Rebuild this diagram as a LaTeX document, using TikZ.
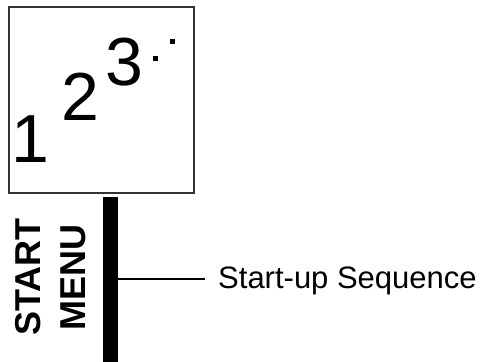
\documentclass[tikz,border=0pt]{standalone}
\usepackage{fontspec}
\setmainfont{Liberation Sans}
\begin{document}
\begin{tikzpicture}[x=1pt,y=-1pt,
  digit/.style={anchor=base west,inner sep=0pt,font=\fontsize{68}{80}\selectfont},
  dotmark/.style={fill=black,minimum size=5pt,inner sep=0pt},
  label/.style={anchor=base west,inner xsep=13pt,inner ysep=0pt,font=\fontsize{31}{37}\selectfont},
  vlabel/.style={rotate=90,inner sep=0pt,align=center,font=\bfseries\fontsize{36}{45}\selectfont}]
\useasboundingbox (0,0) rectangle (486,361);
\node[draw=black!80,line width=2pt,minimum width=185pt,minimum height=185pt,inner sep=0pt,anchor=north west] (box) at (7.5,6.5) {};
\node[digit] (d1) at (11,162) {1};
\node[digit] (d2) at (61,120) {2};
\node[digit] (d3) at (105,85) {3};
\node[dotmark] (p1) at (155,58) {};
\node[dotmark] (p2) at (172,42) {};
\node[fill=black,minimum width=15pt,minimum height=165pt,inner sep=0pt,anchor=north] (bar) at (110,197) {};
\node[label] (seq) at (205,288) {Start-up Sequence};
\draw[line width=2pt] (bar.east |- 0,279) -- (seq.west |- 0,279);
\node[vlabel] (menu) at (51,277) {START\\MENU};
\end{tikzpicture}
\end{document}
